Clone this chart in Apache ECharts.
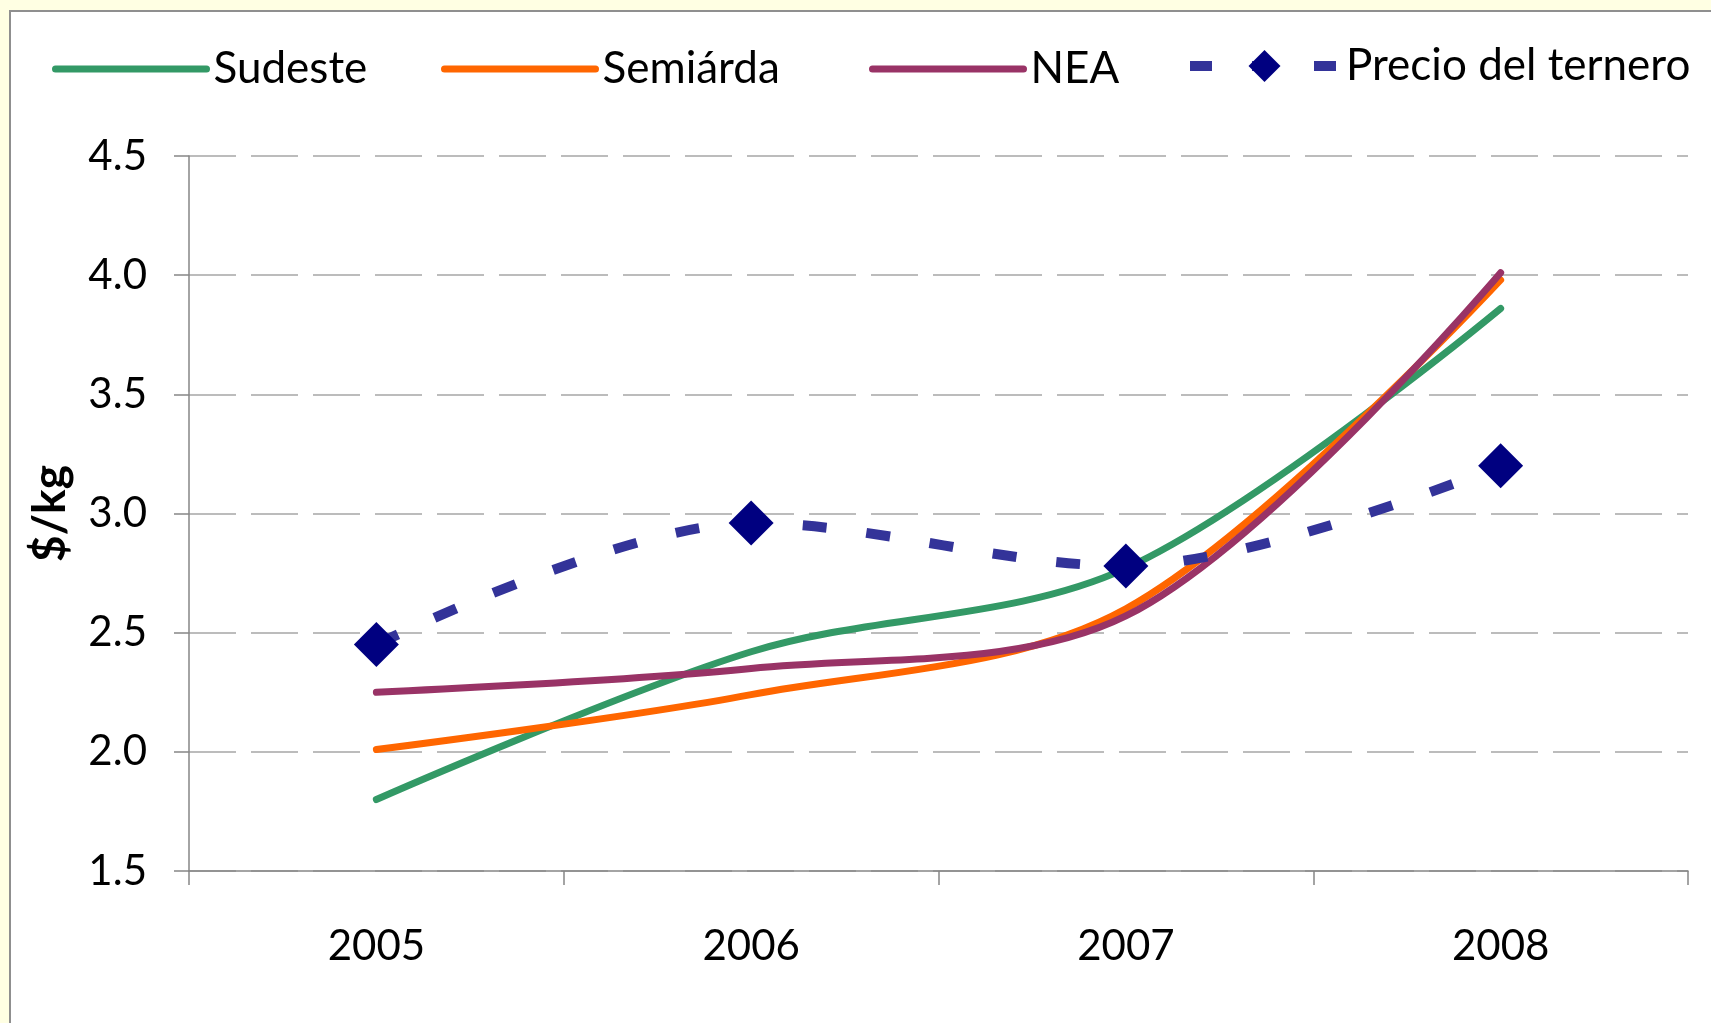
<!DOCTYPE html>
<html>
<head>
<meta charset="utf-8">
<title>Precio por kg</title>
<script src="https://cdn.jsdelivr.net/npm/echarts@6/dist/echarts.min.js"></script>
<style>
  html, body { margin: 0; padding: 0; width: 1711px; height: 1023px; overflow: hidden; background: #ffffe3; }
  #panel { position: absolute; left: 9px; top: 10px; width: 1740px; height: 1060px; background: #ffffff; border: 2px solid #8f8f8f; }
  #chart { position: absolute; left: 0; top: 0; width: 1711px; height: 1023px; }
</style>
</head>
<body>
<div id="panel"></div>
<div id="chart"></div>
<script>
// Years on the category axis
const years = ['2005', '2006', '2007', '2008'];

// $/kg by region
const sudeste = [1.80, 2.42, 2.77, 3.86];
const semiarda = [2.01, 2.24, 2.60, 3.98];
const nea = [2.25, 2.35, 2.57, 4.01];

// Calf price
const precioTernero = [2.45, 2.96, 2.78, 3.20];

// Value axis range
const yMin = 1.5, yMax = 4.5, yStep = 0.5;

const FONT = 'Lato';

const chart = echarts.init(document.getElementById('chart'), null, { renderer: 'canvas' });

// One legend per series so each entry sits at its own x position
function lineLegend(name, left, color) {
  return {
    data: [name],
    left: left,
    top: 47,
    padding: 0,
    itemWidth: 151,
    itemHeight: 34,
    selectedMode: false,
    lineStyle: { width: 7, color: color, cap: 'round', type: 'solid' },
    itemStyle: { opacity: 0 },
    textStyle: { fontFamily: FONT, fontSize: 44, color: '#000', padding: [0, 0, 0, 2] }
  };
}

const option = {
  animation: false,
  backgroundColor: 'transparent',
  grid: { left: 189, right: 23, top: 156, bottom: 152, containLabel: false },
  legend: [
    lineLegend('Sudeste', 52, '#339966'),
    lineLegend('Semiárda', 441, '#ff6600'),
    lineLegend('NEA', 869, '#993366'),
    {
      data: ['Precio del ternero'],
      left: 1185,
      top: 44,
      padding: 0,
      itemWidth: 149,
      itemHeight: 40,
      selectedMode: false,
      lineStyle: { width: 10, color: '#333399', cap: 'butt', type: [22, 40] },
      itemStyle: { color: '#000080', borderWidth: 0 },
      textStyle: { fontFamily: FONT, fontSize: 44, color: '#000', padding: [0, 0, 0, 2] }
    }
  ],
  xAxis: {
    type: 'category',
    data: years,
    boundaryGap: true,
    axisLine: { show: true, lineStyle: { color: '#868686', width: 1.5 } },
    axisTick: { show: true, length: 14, lineStyle: { color: '#868686', width: 1.5 } },
    axisLabel: { margin: 54, fontFamily: FONT, fontSize: 42, color: '#000' },
    splitLine: { show: false }
  },
  yAxis: {
    type: 'value',
    min: yMin,
    max: yMax,
    interval: yStep,
    name: '$/kg',
    nameLocation: 'middle',
    nameGap: 116,
    nameTextStyle: { fontFamily: FONT, fontSize: 46, fontWeight: 'bold', color: '#000' },
    axisLine: { show: true, lineStyle: { color: '#868686', width: 1.5 } },
    axisTick: { show: true, length: 15, lineStyle: { color: '#868686', width: 1.5 } },
    axisLabel: {
      margin: 42,
      fontFamily: FONT,
      fontSize: 42,
      color: '#000',
      formatter: v => v.toFixed(1)
    },
    splitLine: { show: true, lineStyle: { color: '#a6a6a6', width: 1.5, type: [47, 15] } }
  },
  series: [
    {
      name: 'Sudeste', type: 'line', data: sudeste, smooth: 0.33, symbol: 'none',
      lineStyle: { color: '#339966', width: 7, cap: 'round', join: 'round' },
      itemStyle: { color: '#339966' }, z: 3
    },
    {
      name: 'Semiárda', type: 'line', data: semiarda, smooth: 0.33, symbol: 'none',
      lineStyle: { color: '#ff6600', width: 7, cap: 'round', join: 'round' },
      itemStyle: { color: '#ff6600' }, z: 3
    },
    {
      name: 'NEA', type: 'line', data: nea, smooth: 0.33, symbol: 'none',
      lineStyle: { color: '#993366', width: 7, cap: 'round', join: 'round' },
      itemStyle: { color: '#993366' }, z: 4
    },
    {
      name: 'Precio del ternero', type: 'line', data: precioTernero, smooth: 0.33,
      symbol: 'diamond', symbolSize: 45, showSymbol: true,
      lineStyle: { color: '#333399', width: 10, cap: 'butt', type: [24, 40] },
      itemStyle: { color: '#000080' }, z: 5
    }
  ]
};

chart.setOption(option);
</script>
</body>
</html>
